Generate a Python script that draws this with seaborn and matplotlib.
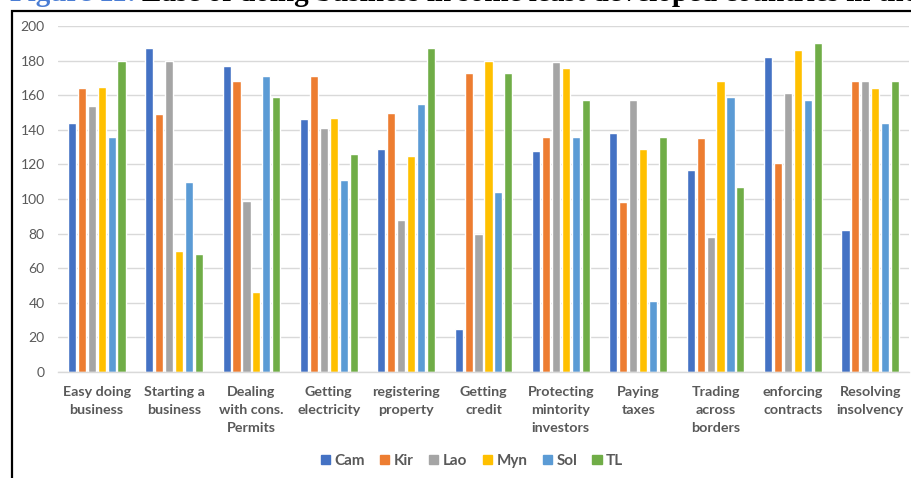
import matplotlib
matplotlib.use("Agg")
import matplotlib.pyplot as plt
import matplotlib.patches as mpatches
import seaborn as sns
import pandas as pd

# Ease of doing business rankings by indicator
indicators = [
    "Easy doing\nbusiness", "Starting a\nbusiness", "Dealing\nwith cons.\nPermits",
    "Getting\nelectricity", "registering\nproperty", "Getting\ncredit",
    "Protecting\nmintority\ninvestors", "Paying\ntaxes", "Trading\nacross\nborders",
    "enforcing\ncontracts", "Resolving\ninsolvency",
]
countries = ["Cam", "Kir", "Lao", "Myn", "Sol", "TL"]

cam = [144, 187, 177, 146, 129, 25, 128, 138, 117, 182, 82]
kir = [164, 149, 168, 171, 150, 173, 136, 98, 135, 121, 168]
lao = [154, 180, 99, 141, 88, 80, 179, 157, 78, 161, 168]
myn = [165, 70, 46, 147, 125, 180, 176, 129, 168, 186, 164]
sol = [136, 110, 171, 111, 155, 104, 136, 41, 159, 157, 144]
tl = [180, 68, 159, 126, 187, 173, 157, 136, 107, 190, 168]

y_ticks = [0, 20, 40, 60, 80, 100, 120, 140, 160, 180, 200]

series = dict(zip(countries, [cam, kir, lao, myn, sol, tl]))
df = pd.DataFrame(
    [(ind, c, v) for c, vals in series.items() for ind, v in zip(indicators, vals)],
    columns=["indicator", "country", "rank"],
)

palette = ["#4472C4", "#ED7D31", "#A5A5A5", "#FFC000", "#5B9BD5", "#70AD47"]

sns.set_theme(style="white")
plt.rcParams["font.family"] = ["Lato", "DejaVu Sans"]

W, H = 912, 478
fig = plt.figure(figsize=(W / 100, H / 100), dpi=100)
ax = fig.add_axes([58 / W, 1 - 372 / H, (909 - 58) / W, (372 - 26) / H])

sns.barplot(
    data=df, x="indicator", y="rank", hue="country", order=indicators,
    hue_order=countries, palette=palette, width=0.77, gap=0.18,
    saturation=1, errorbar=None, ax=ax, legend=False,
)

ax.set_xlim(-0.5, len(indicators) - 0.5)
ax.set_ylim(0, 200)
ax.set_yticks(y_ticks)
ax.set_yticklabels([str(t) for t in y_ticks], color="#595959", fontsize=10)
ax.set_xticks(range(len(indicators)))
ax.set_xticklabels(indicators, color="#595959", fontsize=10.3,
                   fontweight="bold", linespacing=1.62)
ax.tick_params(axis="x", length=0, pad=10)
ax.tick_params(axis="y", length=0, pad=9.5)
ax.set_xlabel("")
ax.set_ylabel("")
ax.yaxis.grid(True, color="#D9D9D9", linewidth=1)
ax.set_axisbelow(True)
for side in ["top", "right", "left"]:
    ax.spines[side].set_visible(False)
ax.spines["bottom"].set_color("#D9D9D9")
ax.spines["bottom"].set_linewidth(1)

handles = [mpatches.Patch(color=c, label=n) for c, n in zip(palette, countries)]
fig.legend(handles=handles, loc="center", bbox_to_anchor=(472 / W, 1 - 461 / H),
           ncol=6, frameon=False, handlelength=0.6, handleheight=0.6,
           handletextpad=0.3, columnspacing=1.0,
           prop={"size": 11, "weight": "bold"}, labelcolor="#595959")

# Chart frame
fig.add_artist(mpatches.Rectangle((12 / W, -0.1), 1.2, 1.1 - 11 / H,
                                  transform=fig.transFigure, fill=False,
                                  edgecolor="black", linewidth=1.6))

# Figure caption above the frame
cap_y = 1 - 1 / H
fig.text(136 / W, cap_y, "Figure 11:", ha="right", va="baseline",
         color="#4A7DD4", fontsize=21, fontweight="bold",
         family=["Liberation Serif"])
fig.text(142 / W, cap_y,
         "Ease of doing business in some least developed countries in the",
         ha="left", va="baseline", color="black", fontsize=21,
         fontweight="bold", family=["Liberation Serif"])

fig.savefig("out.png", dpi=100)
